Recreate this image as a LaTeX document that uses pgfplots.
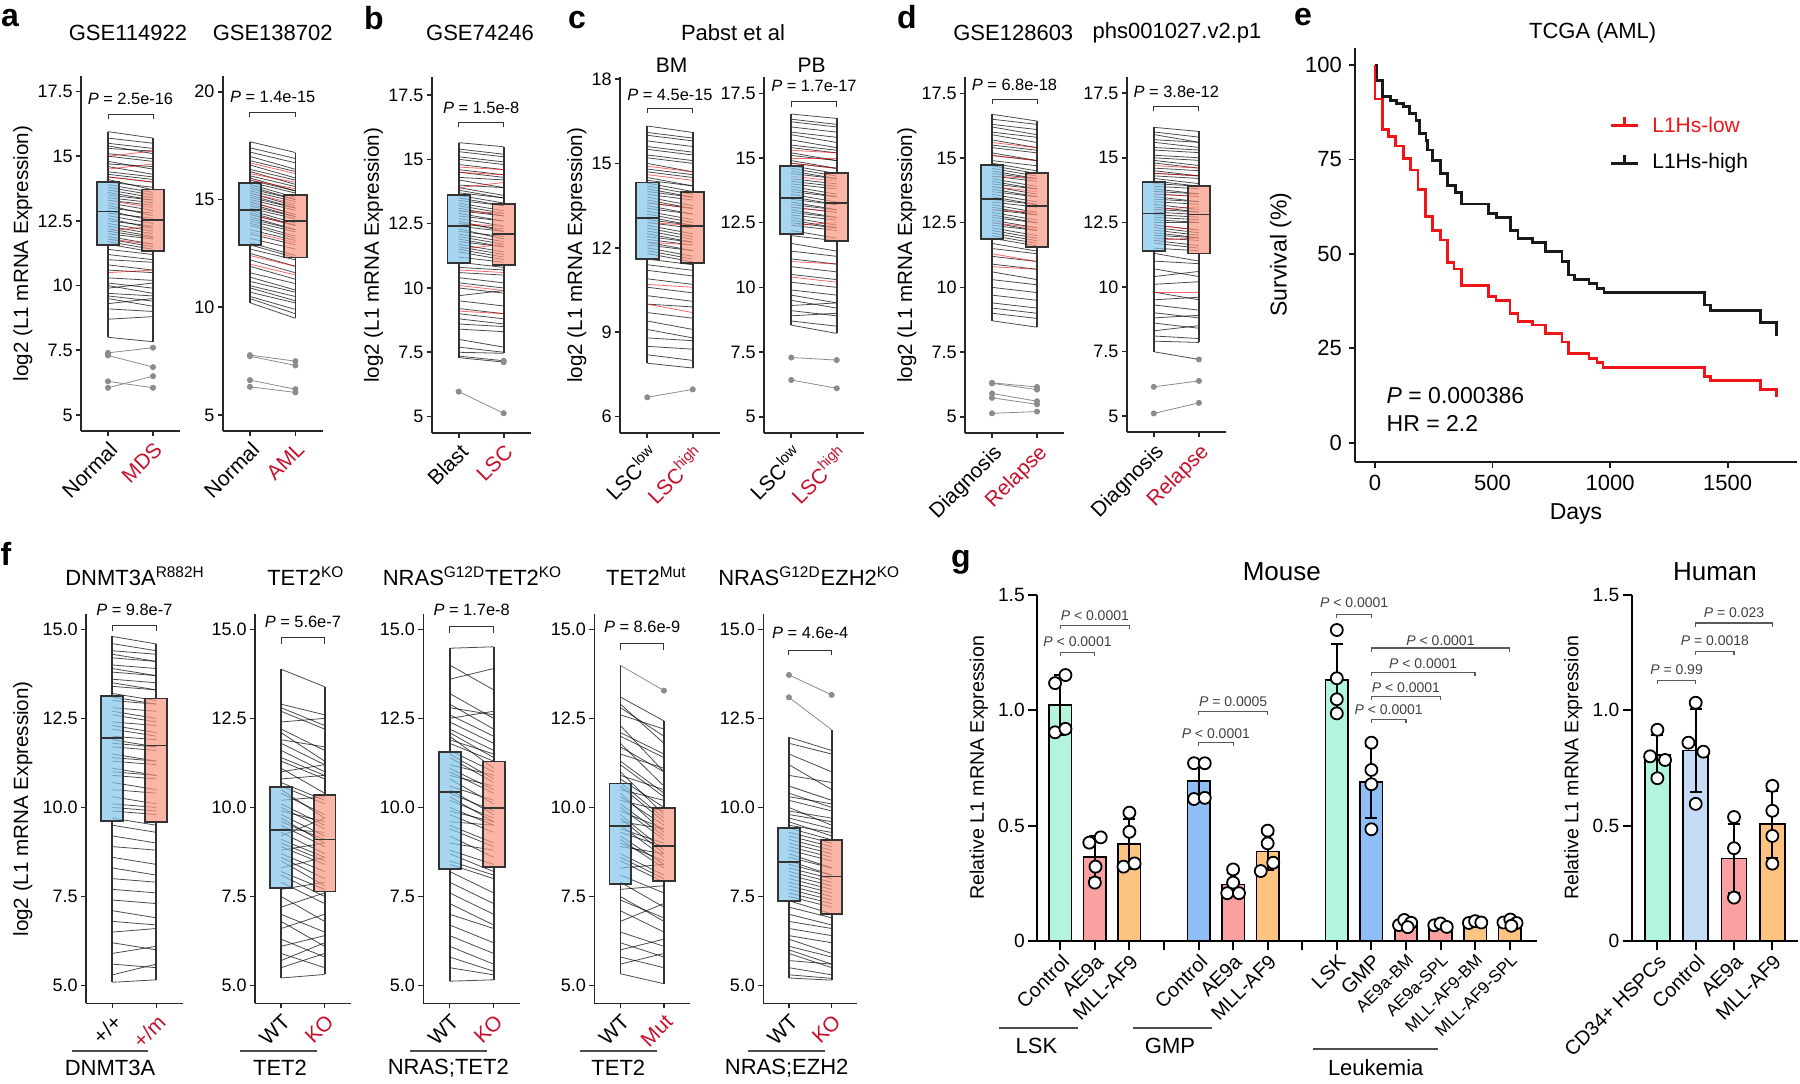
\documentclass[border=0pt]{standalone}
\usepackage{fontspec}
\setmainfont{Liberation Sans}
\usepackage{pgfplots}
\pgfplotsset{compat=1.18}
\usepgfplotslibrary{statistics}
\definecolor{tred}{RGB}{200,16,46}
\definecolor{boxblue}{RGB}{130,196,235}
\definecolor{boxred}{RGB}{250,150,130}
\definecolor{kmred}{RGB}{240,20,25}
\definecolor{mint}{RGB}{178,245,220}
\definecolor{pinkbar}{RGB}{250,160,160}
\definecolor{orangebar}{RGB}{252,196,128}
\definecolor{bluebar}{RGB}{143,190,246}
\definecolor{hblue}{RGB}{198,220,246}
\newcommand{\fs}[1]{\fontsize{#1}{#1}\selectfont}
\pgfplotsset{
  /pgf/number format/assume math mode=true,
  /pgf/number format/1000 sep={},
  pp/.style={scale only axis, clip=false, anchor=south west,
    boxplot/draw direction=y,
    axis x line*=bottom, axis y line*=left,
    xmin=0.4, xmax=2.6, xtick={1,2},
    tick align=outside, major tick length=2.5pt,
    axis line style={line width=0.8pt, black!85},
    every tick/.style={line width=0.8pt, black!85},
    yticklabel style={font=\fs{9}, inner sep=1.5pt},
    xticklabel style={font=\fs{10.5}, rotate=45, anchor=north east, inner sep=1.5pt},
    ylabel style={font=\fs{10.3}},
  },
  r1/.style={ylabel style={yshift=-2.5pt}},
  gl/.style={quiver={u=1,v=\thisrow{b}-\thisrow{a}}, draw=black, draw opacity=0.7, line width=0.4pt, mark=none},
  rl/.style={quiver={u=1,v=\thisrow{b}-\thisrow{a}}, draw=red, draw opacity=0.6, line width=0.4pt, mark=none},
  bl/.style={boxplot/draw direction=y, fill=boxblue, fill opacity=0.7, draw=black!80, line width=0.9pt},
  br/.style={boxplot/draw direction=y, fill=boxred, fill opacity=0.7, draw=black!80, line width=0.9pt},
  ol/.style={draw=black!45, line width=0.4pt, mark=*, mark size=1.3pt, mark options={fill=black!45, draw=black!45}},
  om/.style={only marks, mark=*, mark size=1.3pt, mark options={fill=black!45, draw=black!45}},
  ff/.style={pp, ymin=4.5, ymax=15.42, ytick={5,7.5,10,12.5,15},
    yticklabel style={/pgf/number format/fixed, /pgf/number format/fixed zerofill, /pgf/number format/precision=1},
    width=48pt, height=194.45pt},
  gg/.style={scale only axis, clip=false, anchor=south west,
    axis x line*=bottom, axis y line*=left, ymin=0, ymax=1.5,
    ytick={0,0.5,1,1.5}, yticklabels={0,0.5,1.0,1.5},
    tick align=outside, major tick length=4.5pt,
    axis line style={line width=1pt, black},
    every tick/.style={line width=1pt, black},
    yticklabel style={font=\fs{9.6}, inner sep=1.5pt},
    xticklabel style={font=\fs{10}, rotate=45, anchor=north east, inner sep=1pt},
    ylabel style={font=\fs{9.8}}},
  gbar/.style={ybar, bar width=0.65, bar shift=0pt, draw=black, line width=0.8pt,
    error bars/y dir=both, error bars/y explicit,
    error bars/error bar style={line width=1pt, black},
    error bars/error mark options={rotate=90, mark size=3pt, line width=1pt, black}},
  gpt/.style={only marks, mark=*, mark size=3pt, mark options={fill=white, draw=black, line width=0.9pt}},
}
\newcommand{\pbr}[4]{%
  \draw[black!80, line width=0.5pt] (axis cs:1,#3) -- (axis cs:1,#2) -- (axis cs:2,#2) -- (axis cs:2,#3);
  \node[font=\fs{8.2}] at (axis cs:1.5,#1) {\textit{P} = #4};}
\newcommand{\gbr}[6]{%
  \draw[black!65, line width=0.6pt] ([yshift=-1.8pt]axis cs:#1,#4) -- (axis cs:#1,#4) -- (axis cs:#2,#4) -- ([yshift=-1.8pt]axis cs:#2,#4);
  \node[font=\fs{7}, text=black!75] at (axis cs:#3,#5) {#6};}
\begin{document}
\begin{tikzpicture}
\path[use as bounding box] (0,0) rectangle (900pt,541.5pt);
%% ---------------- a1
\begin{axis}[pp, r1, at={(40.5pt,326pt)}, width=49.5pt, height=177.5pt,
  ymin=4.38, ymax=18.1, ytick={5,7.5,10,12.5,15,17.5},
  xticklabels={Normal,\textcolor{tred}{MDS}}, ylabel={log2 (L1 mRNA Expression)}]
\addplot[gl] table[x expr=1, y=a] {
a b
15.95 15.70
15.70 15.50
15.50 15.30
15.40 15.10
15.30 15.20
15.10 14.90
15.00 14.80
14.80 14.50
14.70 14.60
14.60 14.30
14.40 14.20
14.30 14.10
14.20 14.00
14.10 13.70
14.00 13.80
13.90 13.60
13.80 13.50
13.70 13.40
13.60 13.30
13.50 13.30
13.40 13.20
13.30 13.10
13.20 12.90
13.10 12.70
13.00 12.80
12.90 12.50
12.80 12.60
12.70 12.40
12.60 12.20
12.50 12.30
12.40 12.10
12.30 12.00
12.20 11.90
12.10 11.85
12.00 11.80
11.90 11.60
11.80 11.50
11.70 11.40
11.60 11.30
11.40 11.20
11.20 11.00
11.00 10.90
10.80 10.60
10.60 10.50
10.30 10.20
10.10 9.90
10.00 9.70
9.90 10.10
9.70 9.60
9.60 9.40
9.50 9.20
9.30 9.50
9.10 9.00
8.70 8.80
8.00 7.83
};
\addplot[rl] table[x expr=1, y=a] {
a b
15.00 15.20
14.50 14.70
14.20 14.00
13.30 13.00
12.10 12.30
11.80 11.60
10.50 10.60
};
\addplot[bl, boxplot prepared={draw position=1, lower whisker=8.0, lower quartile=11.57, median=12.86, upper quartile=14.0, upper whisker=15.95, box extend=0.5, whisker extend=0}] coordinates {};
\addplot[br, boxplot prepared={draw position=2, lower whisker=7.83, lower quartile=11.34, median=12.54, upper quartile=13.71, upper whisker=15.7, box extend=0.5, whisker extend=0}] coordinates {};
\addplot[ol] coordinates {(1,7.4) (2,7.6)};
\addplot[ol] coordinates {(1,7.3) (2,6.85)};
\addplot[ol] coordinates {(1,6.3) (2,6.05)};
\addplot[ol] coordinates {(1,6.05) (2,6.5)};
\pbr{17.2}{16.6}{16.45}{2.5e-16}
\end{axis}
%% ---------------- a2
\begin{axis}[pp, at={(111.35pt,326pt)}, width=50pt, height=177.5pt,
  ymin=4.26, ymax=20.73, ytick={5,10,15,20},
  xticklabels={Normal,\textcolor{tred}{AML}}]
\addplot[gl] table[x expr=1, y=a] {
a b
17.68 17.18
17.40 16.90
17.20 16.70
17.00 16.40
16.80 16.30
16.60 16.00
16.40 15.90
16.30 15.70
16.10 15.60
16.00 15.40
15.90 15.40
15.80 15.30
15.70 15.10
15.60 15.00
15.50 15.00
15.40 14.90
15.30 14.70
15.20 14.60
15.10 14.60
15.00 14.50
14.90 14.30
14.80 14.20
14.70 14.20
14.60 14.10
14.50 13.90
14.40 13.80
14.30 13.80
14.20 13.60
14.10 13.60
14.00 13.50
13.90 13.30
13.80 13.20
13.60 13.10
13.40 12.90
13.20 12.70
13.00 12.40
12.90 12.30
12.70 12.20
12.50 11.90
12.20 11.60
11.90 11.30
11.60 11.10
11.40 10.80
11.20 10.70
11.00 10.50
10.90 10.30
10.70 10.20
10.50 9.90
10.40 9.70
10.21 9.49
};
\addplot[rl] table[x expr=1, y=a] {
a b
16.70 16.20
16.20 15.80
15.90 15.50
15.30 14.80
14.90 14.30
14.30 13.80
13.50 13.00
12.40 11.90
12.00 11.50
};
\addplot[bl, boxplot prepared={draw position=1, lower whisker=10.21, lower quartile=12.88, median=14.51, upper quartile=15.76, upper whisker=17.68, box extend=0.5, whisker extend=0}] coordinates {};
\addplot[br, boxplot prepared={draw position=2, lower whisker=9.49, lower quartile=12.31, median=14.0, upper quartile=15.2, upper whisker=17.18, box extend=0.5, whisker extend=0}] coordinates {};
\addplot[ol] coordinates {(1,7.78) (2,7.5)};
\addplot[ol] coordinates {(1,7.73) (2,7.3)};
\addplot[ol] coordinates {(1,6.62) (2,6.2)};
\addplot[ol] coordinates {(1,6.31) (2,6.05)};
\pbr{19.77}{19.03}{18.84}{1.4e-15}
\end{axis}
%% ---------------- b
\begin{axis}[pp, r1, at={(215.85pt,324.85pt)}, width=49.5pt, height=178pt,
  ymin=4.35, ymax=18.19, ytick={5,7.5,10,12.5,15,17.5},
  xticklabels={Blast,\textcolor{tred}{LSC}}, ylabel={log2 (L1 mRNA Expression)}]
\addplot[gl] table[x expr=1, y=a] {
a b
15.65 15.49
15.40 15.20
15.30 15.10
15.10 14.90
15.00 14.80
14.80 14.60
14.60 14.40
14.50 14.30
14.30 14.20
14.20 13.90
14.00 13.90
13.90 13.60
13.80 13.50
13.70 13.50
13.60 13.30
13.50 13.20
13.40 13.20
13.30 13.00
13.20 12.90
13.10 12.80
13.00 12.80
12.90 12.60
12.80 12.60
12.70 12.40
12.60 12.20
12.50 12.30
12.40 12.20
12.30 11.90
12.20 12.00
12.10 11.80
12.00 11.70
11.90 11.60
11.80 11.60
11.70 11.40
11.60 11.30
11.50 11.20
11.40 11.10
11.20 11.00
11.00 10.80
10.80 10.70
10.60 10.50
10.40 10.20
10.20 10.00
10.00 9.80
9.70 9.90
9.50 9.30
9.20 9.00
9.00 8.80
8.80 8.60
8.60 8.50
8.40 8.30
8.00 7.70
7.70 7.50
7.50 7.46
7.35 7.17
7.29 7.12
};
\addplot[rl] table[x expr=1, y=a] {
a b
14.70 14.60
14.50 14.40
13.90 14.10
13.00 12.90
12.50 12.40
11.50 11.70
10.70 10.60
10.10 9.90
9.10 9.00
};
\addplot[bl, boxplot prepared={draw position=1, lower whisker=7.29, lower quartile=10.98, median=12.41, upper quartile=13.62, upper whisker=15.65, box extend=0.5, whisker extend=0}] coordinates {};
\addplot[br, boxplot prepared={draw position=2, lower whisker=7.46, lower quartile=10.9, median=12.09, upper quartile=13.27, upper whisker=15.49, box extend=0.5, whisker extend=0}] coordinates {};
\addplot[om] coordinates {(2,7.17) (2,7.12)};
\addplot[ol] coordinates {(1,5.97) (2,5.13)};
\pbr{17.02}{16.42}{16.24}{1.5e-8}
\end{axis}
%% ---------------- c1
\begin{axis}[pp, r1, at={(310pt,324.85pt)}, width=50pt, height=178pt,
  ymin=5.41, ymax=18.06, ytick={6,9,12,15,18},
  xticklabels={LSC\textsuperscript{low},\textcolor{tred}{LSC\textsuperscript{high}}}, ylabel={log2 (L1 mRNA Expression)}]
\addplot[gl] table[x expr=1, y=a] {
a b
16.33 16.10
16.10 15.90
16.00 15.80
15.80 15.60
15.60 15.40
15.50 15.30
15.30 15.10
15.20 15.00
15.00 14.70
14.80 14.60
14.70 14.50
14.50 14.20
14.40 14.20
14.30 14.00
14.20 13.90
14.10 13.80
14.00 13.80
13.90 13.70
13.80 13.50
13.70 13.40
13.60 13.40
13.50 13.20
13.40 13.20
13.30 13.00
13.20 12.90
13.10 12.80
13.00 12.80
12.90 12.70
12.80 12.50
12.70 12.40
12.60 12.30
12.50 12.20
12.40 12.20
12.30 12.10
12.20 11.90
12.10 11.90
12.00 11.70
11.90 11.60
11.80 11.50
11.60 11.40
11.40 11.20
11.20 11.00
10.90 10.70
10.60 10.40
10.30 10.10
10.00 9.90
9.70 9.50
9.40 9.10
9.10 8.80
8.80 8.70
8.50 8.40
8.20 8.00
7.90 7.73
};
\addplot[rl] table[x expr=1, y=a] {
a b
14.90 14.70
14.60 14.40
13.60 13.40
12.90 12.80
12.20 12.10
10.70 10.60
10.00 9.70
};
\addplot[bl, boxplot prepared={draw position=1, lower whisker=7.9, lower quartile=11.59, median=13.05, upper quartile=14.32, upper whisker=16.33, box extend=0.5, whisker extend=0}] coordinates {};
\addplot[br, boxplot prepared={draw position=2, lower whisker=7.73, lower quartile=11.45, median=12.79, upper quartile=13.98, upper whisker=16.1, box extend=0.5, whisker extend=0}] coordinates {};
\addplot[ol] coordinates {(1,6.69) (2,6.97)};
\pbr{17.43}{16.96}{16.78}{4.5e-15}
\end{axis}
%% ---------------- c2
\begin{axis}[pp, at={(382pt,324.85pt)}, width=50pt, height=178pt,
  ymin=4.36, ymax=18.12, ytick={5,7.5,10,12.5,15,17.5},
  xticklabels={LSC\textsuperscript{low},\textcolor{tred}{LSC\textsuperscript{high}}}]
\addplot[gl] table[x expr=1, y=a] {
a b
16.70 16.53
16.50 16.30
16.40 16.20
16.20 16.00
16.00 15.80
15.90 15.60
15.70 15.40
15.50 15.30
15.40 15.20
15.20 14.90
15.10 14.90
14.90 14.60
14.80 14.60
14.70 14.40
14.60 14.30
14.50 14.20
14.40 14.20
14.20 14.00
14.10 13.90
14.00 13.80
13.90 13.60
13.80 13.50
13.70 13.50
13.60 13.30
13.50 13.20
13.40 13.20
13.30 13.00
13.20 13.00
13.10 12.90
13.00 12.70
12.90 12.70
12.80 12.60
12.70 12.40
12.60 12.30
12.50 12.30
12.40 12.20
12.20 11.90
12.00 11.80
11.70 11.40
11.40 11.20
11.10 10.90
10.80 10.60
10.50 10.30
10.20 10.00
9.90 9.70
9.70 9.40
9.50 9.20
9.30 9.40
9.10 8.90
8.90 9.00
8.70 8.50
8.54 8.22
};
\addplot[rl] table[x expr=1, y=a] {
a b
15.30 15.20
15.00 15.00
14.80 14.60
14.30 14.10
13.10 12.90
12.40 12.50
11.00 10.90
10.40 10.20
};
\addplot[bl, boxplot prepared={draw position=1, lower whisker=8.54, lower quartile=12.05, median=13.47, upper quartile=14.7, upper whisker=16.7, box extend=0.5, whisker extend=0}] coordinates {};
\addplot[br, boxplot prepared={draw position=2, lower whisker=8.22, lower quartile=11.8, median=13.25, upper quartile=14.41, upper whisker=16.53, box extend=0.5, whisker extend=0}] coordinates {};
\addplot[ol] coordinates {(1,7.29) (2,7.19)};
\addplot[ol] coordinates {(1,6.42) (2,6.1)};
\pbr{17.78}{17.18}{16.98}{1.7e-17}
\end{axis}
%% ---------------- d1
\begin{axis}[pp, r1, at={(482.5pt,324.85pt)}, width=49.5pt, height=178pt,
  ymin=4.36, ymax=18.12, ytick={5,7.5,10,12.5,15,17.5},
  xticklabels={Diagnosis,\textcolor{tred}{Relapse}}, ylabel={log2 (L1 mRNA Expression)}]
\addplot[gl] table[x expr=1, y=a] {
a b
16.69 16.43
16.50 16.30
16.30 16.10
16.20 15.90
16.00 15.80
15.90 15.60
15.70 15.40
15.50 15.30
15.40 15.20
15.20 14.90
15.10 14.90
14.90 14.70
14.80 14.50
14.70 14.40
14.60 14.30
14.50 14.20
14.40 14.20
14.30 14.10
14.20 13.90
14.10 13.80
14.00 13.80
13.90 13.60
13.80 13.50
13.70 13.50
13.60 13.30
13.50 13.20
13.40 13.20
13.30 13.10
13.20 12.90
13.10 12.80
13.00 12.80
12.90 12.60
12.80 12.50
12.70 12.50
12.60 12.30
12.50 12.20
12.40 12.20
12.30 12.00
12.20 11.90
12.10 11.80
12.00 11.70
11.90 11.60
11.70 11.40
11.50 11.30
11.20 11.00
10.90 10.70
10.60 10.30
10.30 10.10
10.00 9.80
9.70 9.50
9.40 9.20
9.20 9.00
9.00 8.80
8.71 8.46
};
\addplot[rl] table[x expr=1, y=a] {
a b
15.60 15.40
15.10 14.90
14.30 14.20
13.90 13.70
13.00 12.90
12.50 12.30
11.30 11.00
10.80 10.70
};
\addplot[bl, boxplot prepared={draw position=1, lower whisker=8.71, lower quartile=11.87, median=13.41, upper quartile=14.72, upper whisker=16.69, box extend=0.5, whisker extend=0}] coordinates {};
\addplot[br, boxplot prepared={draw position=2, lower whisker=8.46, lower quartile=11.55, median=13.16, upper quartile=14.43, upper whisker=16.43, box extend=0.5, whisker extend=0}] coordinates {};
\addplot[ol] coordinates {(1,6.31) (2,6.15)};
\addplot[ol] coordinates {(1,6.29) (2,6.05)};
\addplot[ol] coordinates {(1,5.9) (2,5.6)};
\addplot[ol] coordinates {(1,5.73) (2,5.48)};
\addplot[ol] coordinates {(1,5.13) (2,5.2)};
\pbr{17.82}{17.27}{17.07}{6.8e-18}
\end{axis}
%% ---------------- d2
\begin{axis}[pp, at={(563.35pt,325.35pt)}, width=49.65pt, height=177.8pt,
  ymin=4.37, ymax=18.14, ytick={5,7.5,10,12.5,15,17.5},
  xticklabels={Diagnosis,\textcolor{tred}{Relapse}}]
\addplot[gl] table[x expr=1, y=a] {
a b
16.18 16.02
16.00 15.80
15.90 15.60
15.70 15.60
15.60 15.40
15.40 15.30
15.30 15.20
15.10 15.00
15.00 14.90
14.90 14.70
14.80 14.60
14.60 14.50
14.50 14.30
14.40 14.30
14.30 14.20
14.20 14.00
14.10 13.90
14.00 13.90
13.90 13.80
13.80 13.60
13.70 13.60
13.60 13.50
13.50 13.30
13.40 13.30
13.30 13.20
13.20 13.00
13.10 12.90
13.00 12.90
12.90 12.80
12.80 12.70
12.70 12.60
12.60 12.50
12.50 12.50
12.40 12.20
12.30 12.10
12.20 12.00
12.10 11.90
12.00 11.90
11.90 11.80
11.80 11.60
11.70 11.50
11.50 11.40
11.30 11.00
11.00 10.90
10.70 10.40
10.40 10.60
10.10 10.20
9.80 9.50
9.50 9.60
9.30 9.10
9.00 8.80
8.80 8.90
8.60 8.40
8.30 8.50
8.10 8.00
7.90 7.85
7.49 7.19
};
\addplot[rl] table[x expr=1, y=a] {
a b
14.70 14.60
14.40 14.30
13.60 13.50
13.00 13.10
12.40 12.20
11.80 11.90
9.80 9.80
};
\addplot[bl, boxplot prepared={draw position=1, lower whisker=7.49, lower quartile=11.39, median=12.84, upper quartile=14.06, upper whisker=16.18, box extend=0.5, whisker extend=0}] coordinates {};
\addplot[br, boxplot prepared={draw position=2, lower whisker=7.85, lower quartile=11.29, median=12.8, upper quartile=13.9, upper whisker=16.02, box extend=0.5, whisker extend=0}] coordinates {};
\addplot[om] coordinates {(2,7.19)};
\addplot[ol] coordinates {(1,6.13) (2,6.36)};
\addplot[ol] coordinates {(1,5.1) (2,5.51)};
\pbr{17.56}{16.98}{16.8}{3.8e-12}
\end{axis}
%% ---------------- e (KM)
\begin{axis}[scale only axis, clip=false, anchor=south west, at={(677.5pt,310.65pt)}, width=221pt, height=207pt,
  axis x line*=bottom, axis y line*=left, xmin=-85, xmax=1795, ymin=-5, ymax=104.6,
  xtick={0,500,1000,1500}, ytick={0,25,50,75,100}, tick align=outside, major tick length=3pt,
  axis line style={line width=0.9pt, black!90}, every tick/.style={line width=0.9pt, black!90},
  tick label style={font=\fs{11}}, xlabel={Days}, ylabel={Survival (\%)},
  label style={font=\fs{11.5}}]
\addplot[const plot, black!90, line width=1.4pt] coordinates {
(0,100)(5,96)(31,91.6)(65,90.7)(91,89.8)(122,89)(146,87.2)(174,85.4)(188,81.9)(217,80.1)(225,77.5)(246,74.8)(277,71.3)(310,68.2)(341,66.2)(367,63.2)(484,60.7)(517,59.7)(577,56.3)(608,54.1)(669,53)(726,50.6)(795,47.9)(824,44.4)(850,43.2)(910,42.2)(944,40.9)(974,39.7)(1401,36.5)(1427,35)(1639,31.8)(1708,28.2)};
\addplot[const plot, kmred, line width=1.4pt] coordinates {
(0,100)(0,91)(31,83)(57,81)(88,78.6)(122,75.3)(150,72.2)(183,67)(215,60)(243,56.3)(277,53.7)(307,47.7)(336,46)(367,41.7)(484,38.8)(515,37.6)(574,34.2)(608,32.2)(669,31.2)(726,29)(795,26.7)(824,23.7)(910,22.3)(944,21.2)(970,20)(1401,17.6)(1427,16.4)(1639,14.1)(1708,12)};
\draw[kmred, line width=1.4pt] (axis cs:1005,84.1) -- (axis cs:1117,84.1);
\draw[kmred, line width=1.2pt] (axis cs:1061,84.1) -- (axis cs:1061,86.3);
\draw[black!90, line width=1.4pt] (axis cs:1005,74.0) -- (axis cs:1117,74.0);
\draw[black!90, line width=1.2pt] (axis cs:1061,74.0) -- (axis cs:1061,76.2);
\node[anchor=west, font=\fs{10.5}, text=kmred, inner sep=0pt] at (axis cs:1178,84.1) {L1Hs-low};
\node[anchor=west, font=\fs{10.5}, inner sep=0pt] at (axis cs:1178,74.0) {L1Hs-high};
\node[anchor=west, font=\fs{11.5}, inner sep=0pt] at (axis cs:48,12.6) {\textit{P} = 0.000386};
\node[anchor=west, font=\fs{11.5}, inner sep=0pt] at (axis cs:48,5.1) {HR = 2.2};
\end{axis}
%% ---------------- f1
\begin{axis}[ff, at={(43pt,39.85pt)}, width=48.35pt,
  xticklabels={+/+,\textcolor{tred}{+/m}}, ylabel={log2 (L1 mRNA Expression)}]
\addplot[gl] table[x expr=1, y=a] {
a b
14.80 14.59
14.60 14.40
14.40 14.30
14.30 14.10
14.20 14.10
14.00 13.90
13.90 13.70
13.80 13.70
13.60 13.50
13.50 13.30
13.40 13.30
13.20 13.00
13.10 12.90
13.00 12.90
12.80 12.70
12.70 12.50
12.60 12.40
12.40 12.30
12.30 12.10
12.20 12.00
12.00 11.90
11.90 11.70
11.80 11.70
11.70 11.60
11.50 11.30
11.40 11.30
11.30 11.20
11.10 10.90
11.00 10.90
10.90 10.80
10.70 10.50
10.50 10.40
10.30 10.10
10.10 10.00
10.00 9.90
9.90 9.80
9.70 9.50
9.50 9.30
9.20 9.00
8.90 8.80
8.60 8.40
8.30 8.10
8.00 7.90
7.70 7.60
7.40 7.30
7.10 6.90
6.80 6.70
6.50 6.60
6.20 6.00
5.90 6.10
5.60 5.50
5.30 5.60
5.09 5.16
};
\addplot[bl, boxplot prepared={draw position=1, lower whisker=5.09, lower quartile=9.61, median=11.94, upper quartile=13.13, upper whisker=14.8, box extend=0.5, whisker extend=0}] coordinates {};
\addplot[br, boxplot prepared={draw position=2, lower whisker=5.16, lower quartile=9.59, median=11.74, upper quartile=13.06, upper whisker=14.59, box extend=0.5, whisker extend=0}] coordinates {};
\pbr{15.56}{15.1}{14.94}{9.8e-7}
\end{axis}
%% ---------------- f2
\begin{axis}[ff, at={(127.5pt,39.85pt)}, width=47.85pt,
  xticklabels={WT,\textcolor{tred}{KO}}]
\addplot[gl] table[x expr=1, y=a] {
a b
13.88 13.39
12.90 12.60
12.80 12.30
12.70 12.20
12.40 12.50
12.20 11.60
12.10 11.30
11.90 11.70
11.80 11.20
11.60 11.00
11.40 10.90
11.30 10.80
11.10 10.40
11.00 11.20
10.80 10.90
10.70 10.20
10.60 10.10
10.50 9.70
10.40 9.80
10.20 10.30
10.10 9.50
10.00 9.40
9.90 9.60
9.80 9.20
9.70 9.00
9.60 9.10
9.50 8.90
9.40 9.30
9.30 8.70
9.20 9.70
9.10 8.60
9.00 8.50
8.90 8.40
8.80 9.00
8.70 8.20
8.60 8.00
8.50 7.80
8.30 8.60
8.20 7.70
8.10 7.50
7.90 7.30
7.70 7.90
7.50 6.80
7.20 7.60
7.00 6.50
6.80 6.10
6.60 7.00
6.30 5.80
6.10 6.40
5.90 5.50
5.70 6.20
5.50 5.90
5.21 5.31
};
\addplot[bl, boxplot prepared={draw position=1, lower whisker=5.21, lower quartile=7.74, median=9.36, upper quartile=10.58, upper whisker=13.88, box extend=0.5, whisker extend=0}] coordinates {};
\addplot[br, boxplot prepared={draw position=2, lower whisker=5.31, lower quartile=7.64, median=9.1, upper quartile=10.36, upper whisker=13.39, box extend=0.5, whisker extend=0}] coordinates {};
\pbr{15.22}{14.76}{14.59}{5.6e-7}
\end{axis}
%% ---------------- f3
\begin{axis}[ff, at={(211.65pt,39.85pt)}, width=48.35pt,
  xticklabels={WT,\textcolor{tred}{KO}}]
\addplot[gl] table[x expr=1, y=a] {
a b
14.47 14.51
14.00 13.30
13.60 13.90
13.20 12.50
12.90 12.20
12.80 12.60
12.60 12.00
12.50 12.70
12.40 11.80
12.20 11.60
12.10 11.40
12.00 11.10
11.90 11.50
11.80 11.30
11.60 11.00
11.50 10.80
11.40 10.70
11.20 10.90
11.10 10.50
11.00 10.40
10.90 10.60
10.80 10.10
10.60 10.20
10.50 9.80
10.40 9.90
10.30 9.60
10.20 9.70
10.00 9.50
9.90 9.60
9.80 9.30
9.60 9.50
9.50 9.00
9.40 8.90
9.20 8.60
9.00 8.80
8.80 8.40
8.70 8.20
8.50 8.10
8.40 8.00
8.20 7.60
7.90 7.30
7.60 7.00
7.30 6.70
7.00 6.60
6.70 6.20
6.40 5.90
6.10 5.60
5.80 5.40
5.50 5.30
5.12 5.16
};
\addplot[bl, boxplot prepared={draw position=1, lower whisker=5.12, lower quartile=8.27, median=10.43, upper quartile=11.56, upper whisker=14.47, box extend=0.5, whisker extend=0}] coordinates {};
\addplot[br, boxplot prepared={draw position=2, lower whisker=5.16, lower quartile=8.32, median=9.99, upper quartile=11.29, upper whisker=14.51, box extend=0.5, whisker extend=0}] coordinates {};
\pbr{15.56}{15.08}{14.9}{1.7e-8}
\end{axis}
%% ---------------- f4
\begin{axis}[ff, at={(297.15pt,39.85pt)}, width=47.85pt,
  xticklabels={WT,\textcolor{tred}{Mut}}]
\addplot[gl] table[x expr=1, y=a] {
a b
13.10 12.43
12.90 11.80
12.80 12.00
12.60 12.20
12.30 11.00
12.10 11.50
12.00 11.40
11.80 10.60
11.70 11.00
11.50 11.10
11.30 10.40
11.20 10.30
11.00 9.80
10.90 10.50
10.80 10.00
10.70 9.70
10.60 9.60
10.50 10.20
10.40 9.30
10.30 9.50
10.20 9.90
10.10 9.20
10.00 9.10
9.90 9.40
9.80 8.80
9.70 8.70
9.60 9.40
9.50 8.60
9.40 9.00
9.30 8.90
9.20 8.40
9.10 8.30
9.00 8.50
8.90 8.70
8.70 8.10
8.60 8.00
8.50 7.90
8.30 8.40
8.10 7.60
7.90 7.20
7.70 7.80
7.50 6.80
7.40 6.90
7.10 6.50
6.80 7.30
6.50 6.10
6.20 5.80
6.00 6.30
5.80 5.50
5.60 5.90
5.33 5.05
};
\addplot[bl, boxplot prepared={draw position=1, lower whisker=5.33, lower quartile=7.84, median=9.47, upper quartile=10.67, upper whisker=13.99, box extend=0.5, whisker extend=0}] coordinates {};
\addplot[br, boxplot prepared={draw position=2, lower whisker=5.05, lower quartile=7.93, median=8.91, upper quartile=9.99, upper whisker=12.43, box extend=0.5, whisker extend=0}] coordinates {};
\addplot[draw=black!45, line width=0.4pt] coordinates {(1,13.99) (2,13.28)};
\addplot[om] coordinates {(2,13.28)};
\pbr{15.06}{14.59}{14.41}{8.6e-9}
\end{axis}
%% ---------------- f5
\begin{axis}[ff, at={(381.65pt,39.85pt)}, width=47pt,
  xticklabels={WT,\textcolor{tred}{KO}}]
\addplot[gl] table[x expr=1, y=a] {
a b
11.97 11.60
11.80 11.50
11.50 11.00
11.20 10.50
10.90 10.70
10.60 10.20
10.40 10.00
10.30 10.10
10.20 9.90
10.00 9.50
9.90 9.70
9.80 9.60
9.70 9.40
9.60 9.20
9.50 9.30
9.42 9.09
9.30 9.00
9.20 8.90
9.10 8.80
9.00 8.70
8.90 8.60
8.80 8.50
8.70 8.30
8.60 8.30
8.50 8.10
8.40 8.10
8.30 8.00
8.20 7.90
8.10 7.80
8.00 7.70
7.90 7.60
7.80 7.50
7.70 7.40
7.60 7.30
7.50 7.20
7.38 7.01
7.20 6.90
7.00 6.70
6.80 6.60
6.60 6.40
6.40 6.20
6.30 5.90
6.10 5.80
6.00 5.60
5.90 5.50
5.70 5.60
5.50 5.30
5.30 5.20
5.21 5.15
};
\addplot[bl, boxplot prepared={draw position=1, lower whisker=5.21, lower quartile=7.38, median=8.47, upper quartile=9.42, upper whisker=11.97, box extend=0.5, whisker extend=0}] coordinates {};
\addplot[br, boxplot prepared={draw position=2, lower whisker=5.15, lower quartile=7.01, median=8.06, upper quartile=9.09, upper whisker=12.18, box extend=0.5, whisker extend=0}] coordinates {};
\addplot[draw=black!45, line width=0.4pt] coordinates {(1,13.09) (2,12.18)};
\addplot[om] coordinates {(1,13.09)};
\addplot[ol] coordinates {(1,13.72) (2,13.16)};
\pbr{14.9}{14.42}{14.27}{4.6e-4}
\end{axis}
%% ---------------- g Mouse
\begin{axis}[gg, at={(518.55pt,71pt)}, width=250.1pt, height=173.15pt,
  xmin=0.33, xmax=14.8, xtick={1,...,14},
  xticklabels={Control,AE9a,MLL-AF9,,Control,AE9a,MLL-AF9,,LSK,GMP,{\fs{8.5}AE9a-BM},{\fs{8.5}AE9a-SPL},{\fs{8.5}MLL-AF9-BM},{\fs{8.5}MLL-AF9-SPL}},
  ylabel={Relative L1 mRNA Expression}]
\addplot[gbar, fill=mint] coordinates {(1,1.023) +- (0,0.13) (9,1.13) +- (0,0.157)};
\addplot[gbar, fill=pinkbar] coordinates {(2,0.363) +- (0,0.091) (6,0.245) +- (0,0.05) (11,0.072) +- (0,0.012) (12,0.062) +- (0,0.008)};
\addplot[gbar, fill=orangebar] coordinates {(3,0.42) +- (0,0.11) (7,0.387) +- (0,0.078) (13,0.072) +- (0,0.009) (14,0.08) +- (0,0.011)};
\addplot[gbar, fill=bluebar] coordinates {(5,0.692) +- (0,0.09) (10,0.69) +- (0,0.156)};
\addplot[gpt] coordinates {
(0.85,1.117) (1.15,1.152) (0.85,0.904) (1.15,0.919)
(1.84,0.426) (2.17,0.449) (2.02,0.322) (2.0,0.253)
(3.0,0.556) (3.0,0.473) (2.83,0.322) (3.15,0.336)
(4.87,0.77) (5.18,0.77) (4.87,0.615) (5.18,0.62)
(6.0,0.31) (6.0,0.253) (5.83,0.207) (6.17,0.207)
(7.0,0.478) (7.0,0.423) (6.8,0.303) (7.16,0.339)
(9,1.347) (9,1.138) (9,1.047) (9,0.986)
(10,0.859) (10,0.741) (10,0.679) (10,0.484)
(10.8,0.069) (10.95,0.091) (11.15,0.079) (11.05,0.06)
(11.82,0.068) (12.0,0.076) (12.18,0.061)
(12.82,0.078) (13.0,0.086) (13.18,0.08)
(13.82,0.08) (14.02,0.093) (14.2,0.078) (14.05,0.066)
};
\gbr{1}{2}{1.5}{1.249}{1.297}{\textit{P} < 0.0001}
\gbr{1}{3}{2}{1.365}{1.407}{\textit{P} < 0.0001}
\gbr{5}{6}{5.5}{0.859}{0.9}{\textit{P} < 0.0001}
\gbr{5}{7}{6}{0.994}{1.035}{\textit{P} = 0.0005}
\gbr{9}{10}{9.5}{1.414}{1.464}{\textit{P} < 0.0001}
\gbr{10}{11}{10.5}{0.961}{1.002}{\textit{P} < 0.0001}
\gbr{10}{12}{11}{1.059}{1.099}{\textit{P} < 0.0001}
\gbr{10}{13}{11.5}{1.164}{1.201}{\textit{P} < 0.0001}
\gbr{10}{14}{12}{1.269}{1.302}{\textit{P} < 0.0001}
\end{axis}
%% ---------------- g Human
\begin{axis}[gg, at={(815.85pt,71pt)}, width=83.15pt, height=173.15pt,
  xmin=0.33, xmax=4.67, xtick={1,2,3,4},
  xticklabels={CD34+ HSPCs,Control,AE9a,MLL-AF9},
  ylabel={Relative L1 mRNA Expression}]
\addplot[gbar, fill=mint] coordinates {(1,0.806) +- (0,0.088)};
\addplot[gbar, fill=hblue] coordinates {(2,0.826) +- (0,0.18)};
\addplot[gbar, fill=pinkbar] coordinates {(3,0.357) +- (0,0.15)};
\addplot[gbar, fill=orangebar] coordinates {(4,0.5065) +- (0,0.145)};
\addplot[gpt] coordinates {
(1,0.915) (0.81,0.8) (1.2,0.784) (1,0.705)
(2,1.032) (1.81,0.859) (2.2,0.82) (2,0.594)
(3,0.537) (3,0.402) (3,0.188)
(4,0.672) (4,0.564) (4,0.455) (4,0.335)
};
\gbr{1}{2}{1.5}{1.129}{1.177}{\textit{P} = 0.99}
\gbr{2}{3}{2.5}{1.254}{1.299}{\textit{P} = 0.0018}
\gbr{2}{4}{3}{1.377}{1.422}{\textit{P} = 0.023}
\end{axis}
%% ---------------- annotations
\begin{scope}[x=0.5pt,y=0.5pt]
\begin{scope}[font=\fs{11}]
\node at (128,1050) {GSE114922};
\node at (272.7,1050) {GSE138702};
\node at (480,1050) {GSE74246};
\node at (733,1050) {Pabst et al};
\node at (1013.3,1050) {GSE128603};
\node at (1177,1050) {phs001027.v2.p1};
\node at (1592.7,1049.7) {TCGA (AML)};
\node[font=\fs{10.5}] at (671.7,1018) {BM};
\node[font=\fs{10.5}] at (811.7,1018) {PB};
\node at (135,506.6) {DNMT3A\textsuperscript{R882H}};
\node at (305.8,506.6) {TET2\textsuperscript{KO}};
\node at (472.5,506.6) {NRAS\textsuperscript{G12D}TET2\textsuperscript{KO}};
\node at (646.3,506.6) {TET2\textsuperscript{Mut}};
\node at (809.2,506.6) {NRAS\textsuperscript{G12D}EZH2\textsuperscript{KO}};
\node at (110,15) {DNMT3A};
\node at (280,15) {TET2};
\node at (448.3,15) {NRAS;TET2};
\node at (618.3,15) {TET2};
\node at (786.7,15) {NRAS;EZH2};
\node at (1036.4,37.5) {LSK};
\node at (1170,37.5) {GMP};
\node at (1375.7,15) {Leukemia};
\end{scope}
\node[font=\fs{13}] at (1281.8,511.8) {Mouse};
\node[font=\fs{13}] at (1715,511.8) {Human};
\begin{scope}[font=\fs{16}\bfseries]
\node at (10,1065) {a};
\node at (374,1065) {b};
\node at (577,1063) {c};
\node at (907,1066) {d};
\node at (1303,1066) {e};
\node at (6,529) {f};
\node at (961,521) {g};
\end{scope}
\begin{scope}[draw=black!70, line width=1pt]
\draw (71.7,32.3) -- (148.3,32.3);
\draw (240,32.3) -- (316.7,32.3);
\draw (410,32.3) -- (486.7,32.3);
\draw (580,32.3) -- (656.7,32.3);
\draw (748.3,32.3) -- (825,32.3);
\draw (998.9,55.5) -- (1078.2,55.5);
\draw (1132.9,55.5) -- (1212.1,55.5);
\draw (1312.9,34) -- (1437.9,34);
\end{scope}
\end{scope}
\end{tikzpicture}
\end{document}
